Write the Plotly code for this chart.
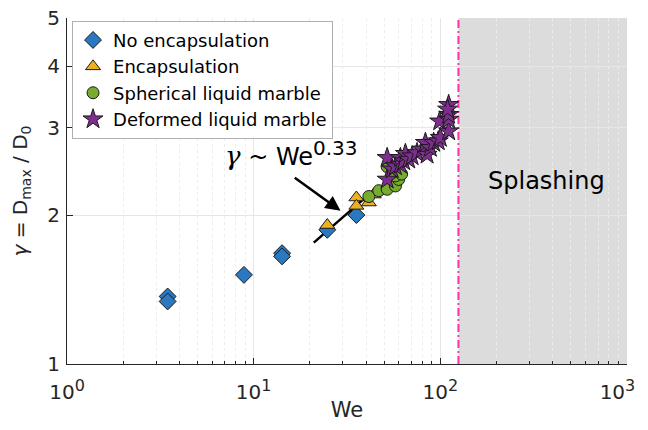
import numpy as np
import plotly.graph_objects as go

# ---- data ----
no_enc_we = [3.46, 3.46, 8.87, 14.2, 14.2, 24.8, 35.5]
no_enc_g = [1.369, 1.338, 1.514, 1.675, 1.650, 1.867, 2.00]

enc_we = [24.8, 35.5, 35.5, 41.4, 44.0]
enc_g = [1.909, 2.17, 2.087, 2.12, 2.20]

sph_we = [41.4, 46.8, 51.9, 57.5, 59.8, 57.5, 51.9, 62.0]
sph_g = [2.18, 2.24, 2.255, 2.29, 2.36, 2.40, 2.505, 2.42]

def_we = [51.9, 51.9, 55.2, 57.5, 61.1, 61.1, 63.6, 65.0, 67.7, 70.6, 75.0, 79.8, 83.2,
          84.9, 88.4, 92.1, 97.5, 100.0, 110.8, 99.2, 110.8, 110.8, 110.8, 109.4]
def_g = [2.61, 2.36, 2.475, 2.51, 2.53, 2.61, 2.57, 2.66, 2.59, 2.63, 2.67, 2.715, 2.80,
         2.65, 2.735, 2.80, 2.82, 2.865, 2.954, 3.094, 3.12, 3.19, 3.34, 3.27]

splash_we = 125.0
fit_c = 0.644
fit_exp = 0.33
fit_range = [21.0, 45.0]
arrow_tail = (16.3, 2.39)
arrow_head = (29.2, 2.04)

x_ticks = [1, 10, 100, 1000]
x_exponents = ["0", "1", "2", "3"]
x_minor = [m * 10 ** d for d in range(3) for m in range(2, 10)]
y_ticks = [1, 2, 3, 4, 5]

FONT = "DejaVu Sans"
TXT = "#262626"

x_ticktext = ["10<sup><span style='font-size:16px'>%s</span></sup>" % e for e in x_exponents]
# keep the last label inside the window (the reference shows it fully)
x_ticktext[-1] += "\u00a0\u00a0\u00a0"

fig = go.Figure()

# splashing region
fig.add_shape(type="rect", xref="x", yref="paper", x0=splash_we, x1=1000, y0=0, y1=1,
              fillcolor="#dcdcdc", line=dict(width=0), layer="below")

# dashed threshold line
fig.add_trace(go.Scatter(x=[splash_we, splash_we], y=[1, 5], mode="lines",
                         line=dict(color="#ff33a8", width=2, dash="8px,3px,2px,3px"),
                         showlegend=False, hoverinfo="skip"))

# fit line
fx = np.array(fit_range)
fig.add_trace(go.Scatter(x=fx, y=fit_c * fx ** fit_exp, mode="lines",
                         line=dict(color="black", width=2.5), showlegend=False))

mk_line = dict(color="#1a1a1a", width=1)
fig.add_trace(go.Scatter(x=no_enc_we, y=no_enc_g, mode="markers", name="No encapsulation",
                         marker=dict(symbol="diamond", size=13, color="#2a78c0", line=mk_line)))
fig.add_trace(go.Scatter(x=enc_we, y=enc_g, mode="markers", name="Encapsulation",
                         marker=dict(symbol="triangle-up", size=13, color="#edb120", line=mk_line)))
fig.add_trace(go.Scatter(x=sph_we, y=sph_g, mode="markers", name="Spherical liquid marble",
                         marker=dict(symbol="circle", size=12, color="#77ac30", line=mk_line)))
fig.add_trace(go.Scatter(x=def_we, y=def_g, mode="markers", name="Deformed liquid marble",
                         marker=dict(symbol="star", size=15, color="#7e2f8e", line=mk_line)))

fig.add_annotation(x=np.log10(arrow_head[0]), y=np.log10(arrow_head[1]),
                   ax=np.log10(arrow_tail[0]), ay=np.log10(arrow_tail[1]),
                   xref="x", yref="y", axref="x", ayref="y", text="",
                   showarrow=True, arrowhead=2, arrowsize=1.2, arrowwidth=2.5, arrowcolor="black")
fig.add_annotation(x=np.log10(15.9), y=np.log10(2.66), xref="x", yref="y", xanchor="center",
                   text="<span style='font-family:DejaVu Serif;font-size:26px'><i>γ</i></span> ~ We"
                        "<sup><span style='font-size:20px'>0.33</span></sup>",
                   showarrow=False, font=dict(family=FONT, size=24, color="black"))
fig.add_annotation(x=np.log10(372), y=np.log10(2.34), xref="x", yref="y",
                   text="Splashing", showarrow=False, font=dict(family=FONT, size=24, color="black"))

# page body adds an 8px offset; figure sized to fit the 648x430 window
fig.update_layout(
    width=640, height=414,
    margin=dict(l=58.7, r=21, t=10, b=57.7, autoexpand=False),
    paper_bgcolor="white", plot_bgcolor="white",
    font=dict(family=FONT, size=20, color=TXT),
    legend=dict(x=0.009, y=0.992, xanchor="left", yanchor="top",
                bgcolor="white", bordercolor="#b0b0b0", borderwidth=1,
                font=dict(family=FONT, size=18, color="black"),
                itemwidth=30, tracegroupgap=0),
    showlegend=True,
)
fig.update_xaxes(type="log", range=[0, 3], tickvals=x_ticks, ticktext=x_ticktext,
                 ticks="inside", ticklen=6, tickcolor=TXT, automargin=False,
                 ticklabeloverflow="allow",
                 showline=True, linecolor=TXT, linewidth=1, mirror=False,
                 showgrid=True, gridcolor="#e6e6e6", gridwidth=1,
                 minor=dict(tickvals=x_minor, ticks="inside", ticklen=3, tickcolor=TXT,
                            showgrid=True, gridcolor="#ececec", griddash="dot"),
                 zeroline=False, ticklabelstandoff=10,
                 title=dict(text="We", font=dict(size=21, color=TXT), standoff=6),
                 tickfont=dict(size=20, color=TXT))
fig.update_yaxes(type="log", range=[0, np.log10(5.003)], tickvals=y_ticks,
                 ticks="inside", ticklen=6, tickcolor=TXT, automargin=False,
                 ticklabeloverflow="allow",
                 showline=True, linecolor=TXT, linewidth=1,
                 showgrid=True, gridcolor="#e6e6e6", gridwidth=1, zeroline=False,
                 minor=dict(showgrid=False, ticks=""),
                 ticklabelstandoff=2,
                 title=dict(text="<i>γ</i> = D<sub>max</sub> / D<sub>0</sub>",
                            font=dict(size=20, color=TXT), standoff=15),
                 tickfont=dict(size=20, color=TXT))

fig.write_html("out.html")
